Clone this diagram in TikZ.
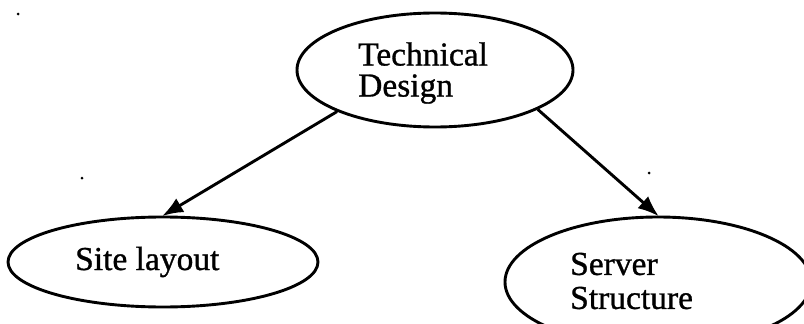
\documentclass[tikz,border=0pt]{standalone}
\usepackage{fontspec}
\setmainfont{Liberation Serif}
\newfontfamily\scanfont[FakeBold=0.9]{Liberation Serif}
\usetikzlibrary{shapes.geometric,arrows.meta}
\tikzset{
  ell/.style={draw, ellipse, line width=2.9pt, inner sep=0pt},
  lbl/.style={inner sep=0pt, anchor=west, align=left, font=\scanfont\fontsize{33.5pt}{31pt}\selectfont},
  conn/.style={line width=2.9pt, -{Latex[length=21pt,width=16pt]}, shorten >=-1pt},
  speck/.style={fill=black, inner sep=0pt, minimum size=3pt, circle}
}
\begin{document}
\begin{tikzpicture}[x=1pt,y=-1pt]
\useasboundingbox (0,0) rectangle (804,324);
\clip (0,0) rectangle (804,324);
\node[ell, minimum width=276pt, minimum height=114pt] (td) at (435,70) {};
\node[ell, minimum width=310pt, minimum height=90pt] (sl) at (163,262) {};
\node[ell, minimum width=306pt, minimum height=130pt] (ss) at (658,282) {};
\node[lbl] (tdt) at (358,73) {Technical\\Design};
\node[lbl] (slt) at (75,262) {Site layout};
\node[lbl, font=\scanfont\fontsize{33.5pt}{34pt}\selectfont] (sst) at (570,281) {Server\\Structure};
\draw[conn] (td.-157.6) -- (sl.north);
\draw[conn] (td.-21.3) -- (ss.north);
\node[speck] (d1) at (18,14) {};
\node[speck] (d2) at (82,178) {};
\node[speck] (d3) at (649,173) {};
\end{tikzpicture}
\end{document}
